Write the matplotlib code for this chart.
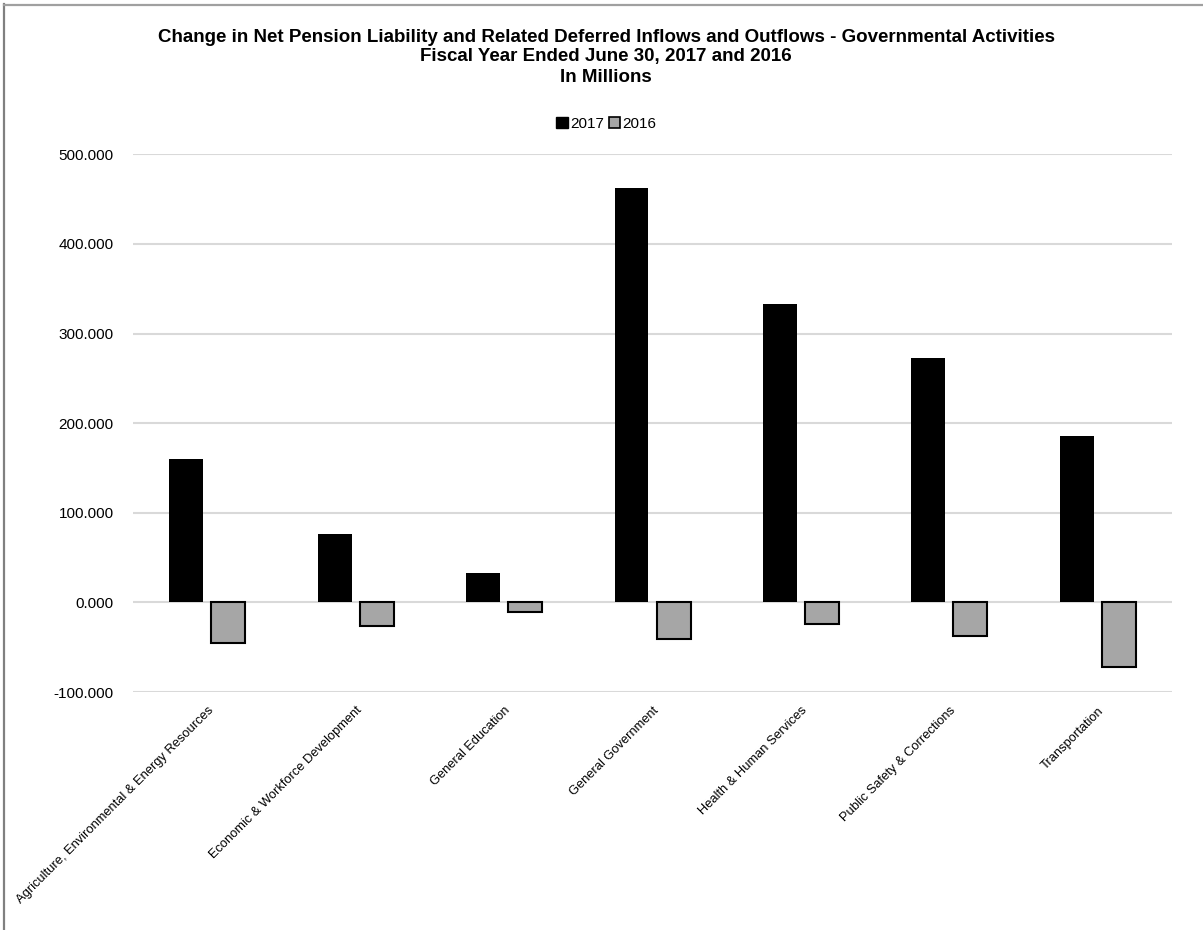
import matplotlib
matplotlib.use("Agg")
import matplotlib.pyplot as plt
import numpy as np
from matplotlib.patches import Patch
from matplotlib.lines import Line2D
from matplotlib.ticker import FuncFormatter

plt.rcParams["font.family"] = ["Liberation Sans", "DejaVu Sans"]

categories = [
    "Agriculture, Environmental & Energy Resources",
    "Economic & Workforce Development",
    "General Education",
    "General Government",
    "Health & Human Services",
    "Public Safety & Corrections",
    "Transportation",
]
values_2017 = [160.1, 76.4, 32.9, 462.4, 333.0, 272.7, 185.7]
values_2016 = [-45.5, -25.9, -10.2, -40.7, -24.3, -37.4, -71.6]
series_labels = ["2017", "2016"]

fig = plt.figure(figsize=(12.03, 9.30), dpi=100)
ax = fig.add_axes([0.1106, 0.2558, 0.8636, 0.5783])

x = np.arange(len(categories))
width = 0.229
offset = 0.1415
ax.bar(x - offset, values_2017, width, color="black", zorder=3)
ax.bar(x + offset, values_2016, width, color="#A6A6A6",
       edgecolor="black", linewidth=1.5, zorder=3)

ax.set_xlim(-0.5, len(categories) - 0.5)
ax.set_ylim(-100, 500)
ax.set_yticks(np.arange(-100, 501, 100))
ax.yaxis.set_major_formatter(FuncFormatter(lambda v, _: f"{v:.3f}"))
ax.grid(axis="y", color="#D9D9D9", linewidth=1.5, zorder=0)
for s in ax.spines.values():
    s.set_visible(False)
ax.tick_params(axis="y", length=0, pad=14, labelsize=11)
ax.tick_params(axis="x", length=0, pad=9)
ax.set_xticks(x)
ax.set_xticklabels(categories, rotation=45, ha="right", va="top",
                   rotation_mode="anchor", fontsize=9.3)

title_x = 0.504
title_lines = [
    "Change in Net Pension Liability and Related Deferred Inflows and Outflows - Governmental Activities",
    "Fiscal Year Ended June 30, 2017 and 2016",
    "In Millions",
]
for i, line in enumerate(title_lines):
    fig.text(title_x, 1 - (37 + 20 * i) / 930, line,
             ha="center", va="center", fontsize=13.5, fontweight="bold")

handles = [Patch(facecolor="black", edgecolor="black"),
           Patch(facecolor="#A6A6A6", edgecolor="black", linewidth=1.2)]
fig.legend(handles, series_labels, loc="center", bbox_to_anchor=(title_x, 1 - 124 / 930),
           ncol=2, frameon=False, fontsize=11, handlelength=0.75, handleheight=0.75,
           handletextpad=0.15, columnspacing=0.3, borderaxespad=0)

# outer frame along the top and left edges
fig.add_artist(Line2D([4 / 1203, 4 / 1203], [0, 1 - 4 / 930],
                      transform=fig.transFigure, color="#808080", linewidth=1.6))
fig.add_artist(Line2D([4 / 1203, 1], [1 - 5 / 930, 1 - 5 / 930],
                      transform=fig.transFigure, color="#A0A0A0", linewidth=1.6))

fig.savefig("out.png", dpi=100)
